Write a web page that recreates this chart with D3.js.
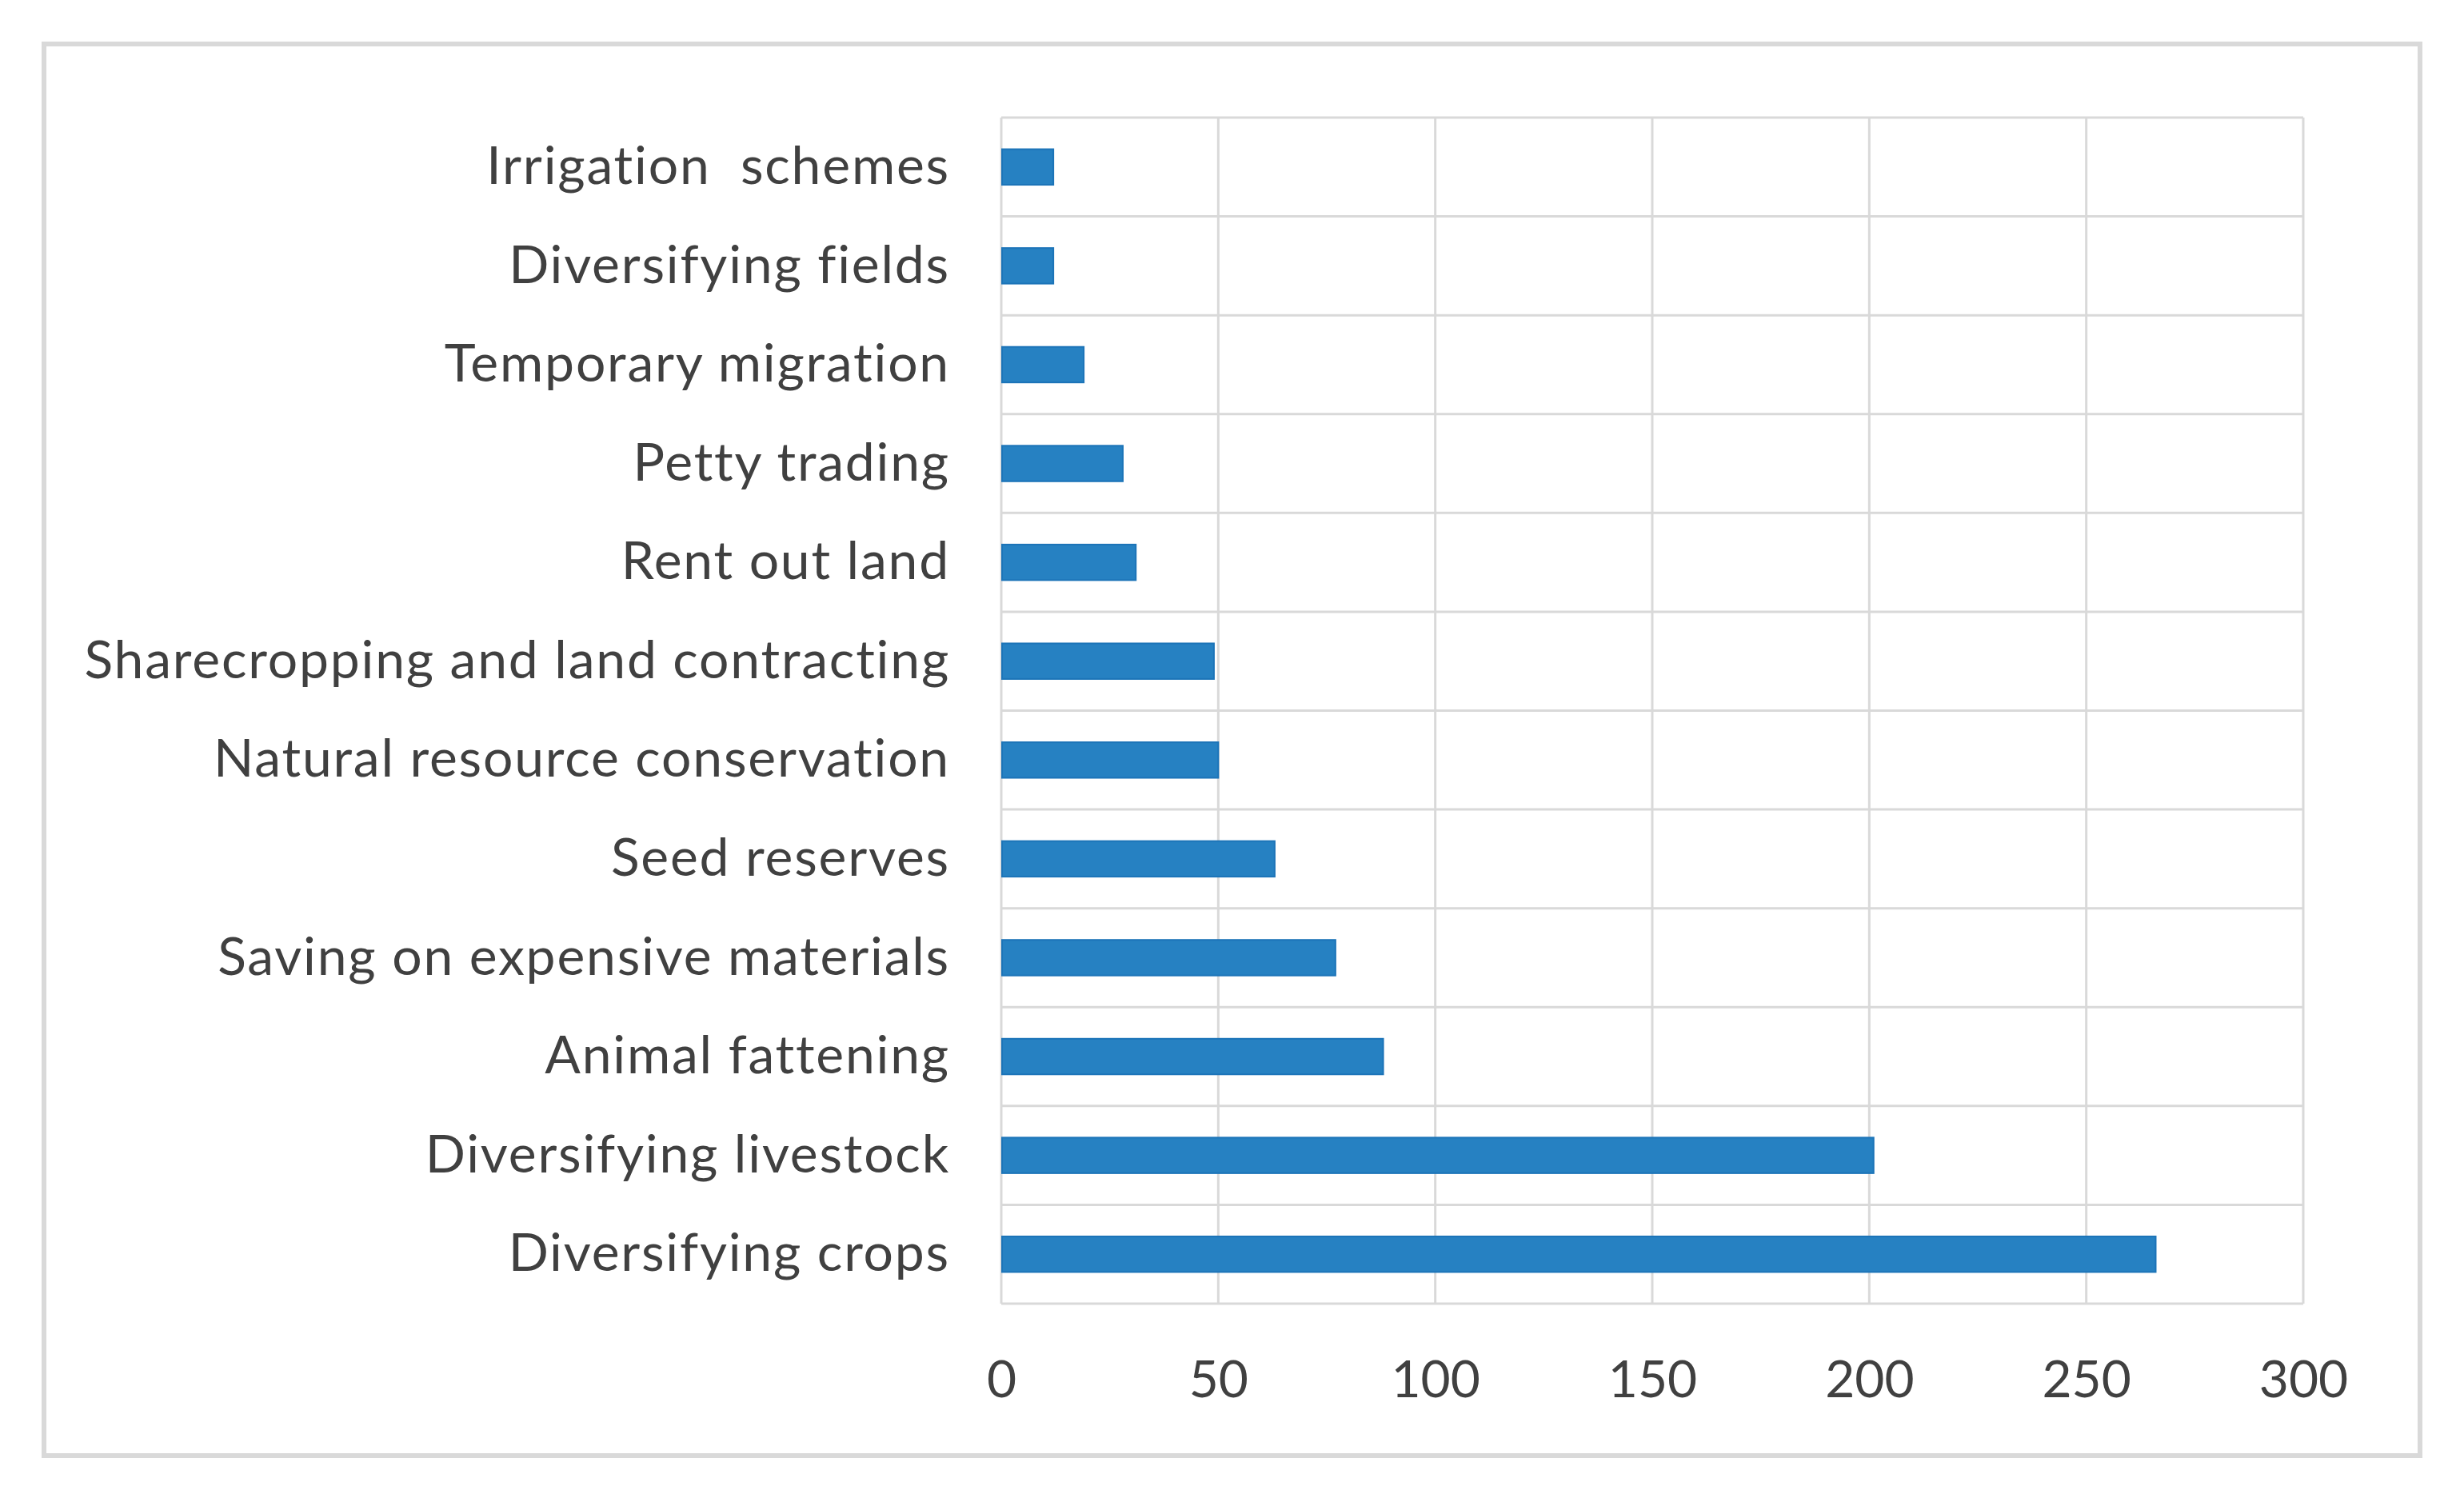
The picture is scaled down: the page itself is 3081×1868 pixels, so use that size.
<!DOCTYPE html>
<html>
<head>
<meta charset="utf-8">
<script src="https://cdn.jsdelivr.net/npm/d3@7"></script>
<style>
  html, body { margin: 0; padding: 0; background: #ffffff; }
  svg { display: block; }
  text { font-family: Lato, "Open Sans", sans-serif; fill: #404040; white-space: pre; font-variant-ligatures: none; }
</style>
</head>
<body>
<svg id="chart" width="3081" height="1868"></svg>
<script>
// ---- data (top to bottom) ----
const categories = [
  "Irrigation  schemes",
  "Diversifying fields",
  "Temporary migration",
  "Petty trading",
  "Rent out land",
  "Sharecropping and land contracting",
  "Natural resource conservation",
  "Seed reserves",
  "Saving on expensive materials",
  "Animal fattening",
  "Diversifying livestock",
  "Diversifying crops"
];
const values = [12, 12, 19, 28, 31, 49, 50, 63, 77, 88, 201, 266];
const xTicks = [0, 50, 100, 150, 200, 250, 300];

// ---- layout ----
const W = 3081, H = 1868;
const plot = { left: 1252, right: 2880, top: 147, bottom: 1630 };
const svg = d3.select("#chart");

// outer frame
svg.append("rect")
  .attr("x", 55).attr("y", 55)
  .attr("width", 3026 - 55).attr("height", 1820 - 55)
  .attr("fill", "#ffffff")
  .attr("stroke", "#d9d9d9").attr("stroke-width", 6);

const x = d3.scaleLinear().domain([0, 300]).range([plot.left, plot.right]);
const y = d3.scaleBand().domain(categories)
  .range([plot.top, plot.bottom])
  .paddingInner(0.64).paddingOuter(0.32);
const step = y.step();

// vertical gridlines
svg.append("g").selectAll("line").data(xTicks).join("line")
  .attr("x1", d => x(d)).attr("x2", d => x(d))
  .attr("y1", plot.top).attr("y2", plot.bottom)
  .attr("stroke", "#d9d9d9").attr("stroke-width", 3);

// horizontal gridlines at band boundaries
const boundaries = categories.map(c => y(c) - step * y.paddingInner() / 2);
boundaries.push(plot.bottom);
svg.append("g").selectAll("line").data(boundaries).join("line")
  .attr("x1", plot.left).attr("x2", plot.right)
  .attr("y1", d => d).attr("y2", d => d)
  .attr("stroke", "#d9d9d9").attr("stroke-width", 3);

// bars
svg.append("g").selectAll("rect").data(categories).join("rect")
  .attr("x", x(0) + 1)
  .attr("y", d => y(d))
  .attr("width", (d, i) => x(values[i]) - x(0) - 1)
  .attr("height", y.bandwidth())
  .attr("fill", "#2681c2")
  .attr("stroke", "#1c74b8").attr("stroke-width", 2);

// category labels
const yAxis = d3.axisLeft(y).tickSize(0).tickPadding(64);
const gy = svg.append("g").attr("transform", `translate(${plot.left},0)`).call(yAxis);
gy.select(".domain").remove();
gy.selectAll("text")
  .attr("font-size", 66)
  .attr("letter-spacing", "1.8px")
  .attr("font-family", "Lato, 'Open Sans', sans-serif")
  .attr("fill", "#404040");

// x tick labels
const xAxis = d3.axisBottom(x).tickValues(xTicks).tickSize(0).tickPadding(72);
const gx = svg.append("g").attr("transform", `translate(0,${plot.bottom})`).call(xAxis);
gx.select(".domain").remove();
gx.selectAll("text")
  .attr("font-size", 64)
  .attr("font-family", "Lato, 'Open Sans', sans-serif")
  .attr("fill", "#404040");
</script>
</body>
</html>
